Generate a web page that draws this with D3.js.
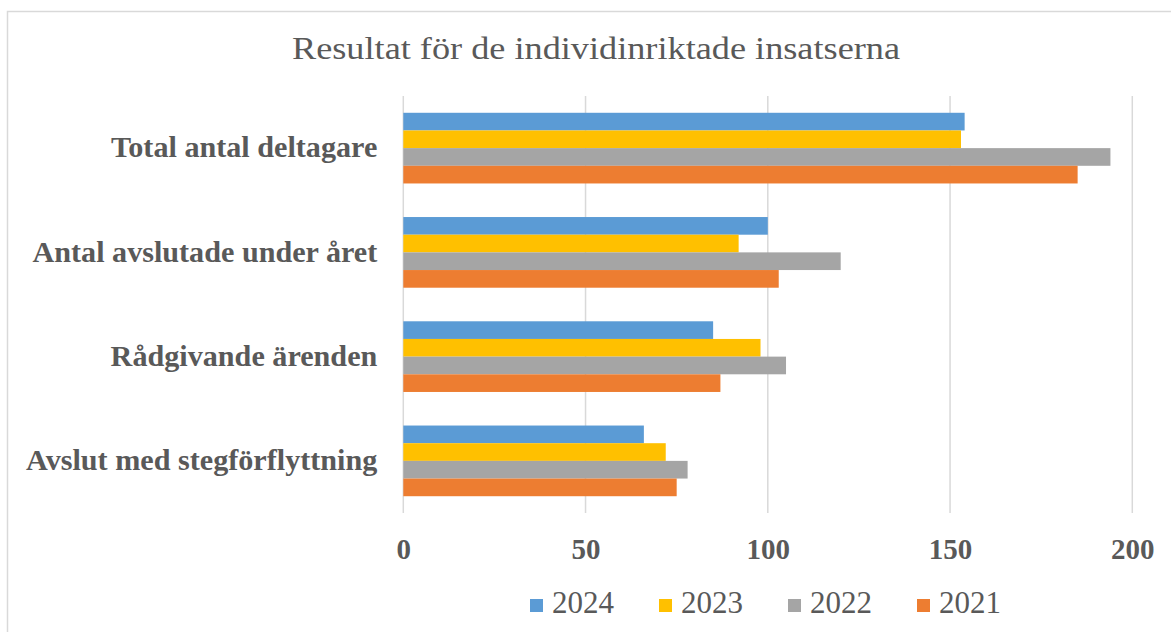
<!DOCTYPE html>
<html>
<head>
<meta charset="utf-8">
<script src="https://cdn.jsdelivr.net/npm/d3@7"></script>
<style>
  html, body { margin: 0; padding: 0; background: #fff; }
  svg { display: block; }
</style>
</head>
<body>
<svg id="chart" width="1171" height="632"></svg>
<script>
const title = "Resultat för de individinriktade insatserna";
const categories = ["Total antal deltagare", "Antal avslutade under året", "Rådgivande ärenden", "Avslut med stegförflyttning"];
const seriesNames = ["2024", "2023", "2022", "2021"];
const values2024 = [154, 100, 85, 66];
const values2023 = [153, 92, 98, 72];
const values2022 = [194, 120, 105, 78];
const values2021 = [185, 103, 87, 75];
const seriesValues = [values2024, values2023, values2022, values2021];
const colors = ["#5B9BD5", "#FFC000", "#A5A5A5", "#ED7D31"];
const xTicks = [0, 50, 100, 150, 200];

const svg = d3.select("#chart");
const W = 1171, H = 632;
const margin = { left: 403.3, right: W - 1132.3, top: 96, bottom: H - 513 };
const FONT = "'Liberation Serif', serif";
const TEXT = "#595959";

// chart border
svg.append("rect")
  .attr("x", 7.5).attr("y", 11.5)
  .attr("width", W + 10).attr("height", H + 10)
  .attr("fill", "#fff").attr("stroke", "#D9D9D9").attr("stroke-width", 1.5);

const x = d3.scaleLinear().domain([0, 200]).range([margin.left, W - margin.right]);
const y0 = d3.scaleBand().domain(categories).range([margin.top, H - margin.bottom]).paddingInner(0.322).paddingOuter(0.161);
const y1 = d3.scaleBand().domain(seriesNames).range([0, y0.bandwidth()]);

// gridlines
svg.append("g")
  .selectAll("line").data(xTicks).join("line")
  .attr("x1", d => x(d)).attr("x2", d => x(d))
  .attr("y1", margin.top).attr("y2", H - margin.bottom)
  .attr("stroke", "#D9D9D9").attr("stroke-width", 1.5);

// bars
const groups = svg.append("g").selectAll("g").data(categories).join("g")
  .attr("transform", d => `translate(0,${y0(d)})`);
groups.selectAll("rect")
  .data((c, ci) => seriesNames.map((s, si) => ({ s, si, v: seriesValues[si][ci] })))
  .join("rect")
  .attr("x", x(0))
  .attr("y", d => y1(d.s))
  .attr("width", d => x(d.v) - x(0))
  .attr("height", y1.bandwidth())
  .attr("fill", d => colors[d.si]);

// x axis labels
const xAxis = d3.axisBottom(x).tickValues(xTicks).tickSize(0).tickPadding(0);
const xg = svg.append("g").attr("transform", `translate(0,${H - margin.bottom})`).call(xAxis);
xg.select(".domain").remove();
xg.selectAll("text")
  .attr("dy", null).attr("y", 46)
  .attr("font-family", FONT)
  .attr("font-weight", "bold").attr("font-size", 29)
  .attr("fill", TEXT);

// category labels
const yAxis = d3.axisLeft(y0).tickSize(0).tickPadding(25);
const yg = svg.append("g").attr("transform", `translate(${margin.left},0)`).call(yAxis);
yg.select(".domain").remove();
yg.selectAll("text")
  .attr("font-family", FONT)
  .attr("font-weight", "bold").attr("font-size", 29)
  .attr("fill", TEXT)
  .attr("transform", "scale(1.04,1)");

// title
svg.append("text")
  .attr("x", 596).attr("y", 59)
  .attr("text-anchor", "middle")
  .attr("font-family", FONT)
  .attr("font-size", 32)
  .attr("fill", TEXT)
  .attr("textLength", 608).attr("lengthAdjust", "spacingAndGlyphs")
  .text(title);

// legend
const legendX = [530, 659, 788, 917];
const lg = svg.append("g").selectAll("g").data(seriesNames).join("g")
  .attr("transform", (d, i) => `translate(${legendX[i]},599)`);
lg.append("rect").attr("x", 0).attr("y", 0).attr("width", 13).attr("height", 13)
  .attr("fill", (d, i) => colors[i]);
lg.append("text").attr("x", 22).attr("y", 14)
  .attr("font-family", FONT)
  .attr("font-size", 31).attr("fill", TEXT)
  .text(d => d);
</script>
</body>
</html>
